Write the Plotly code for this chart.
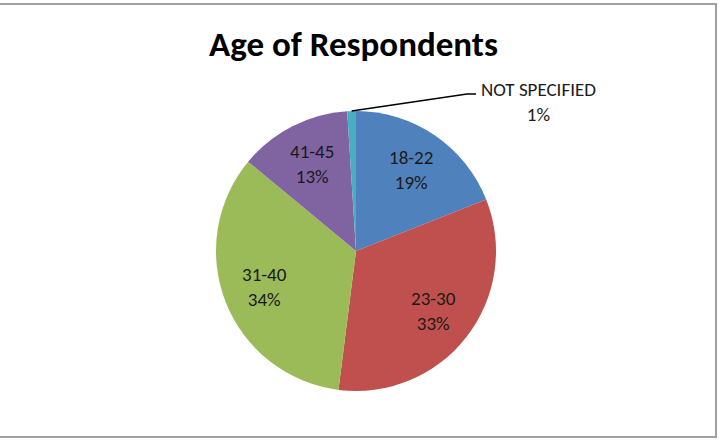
import math
import plotly.graph_objects as go

labels = ["18-22", "23-30", "31-40", "41-45", "NOT SPECIFIED"]
values = [19, 33, 34, 13, 1]
colors = ["#4F81BD", "#C0504D", "#9BBB59", "#8064A2", "#4BACC6"]
title = "Age of Respondents"

W, H = 723, 448
cx, cy, r = 356, 251, 140  # pixel layout of the pie

fig = go.Figure(go.Pie(
    labels=labels, values=values, sort=False, direction="clockwise", rotation=0,
    marker=dict(colors=colors, line=dict(width=0)),
    textinfo="none", hoverinfo="label+percent", showlegend=False,
    domain=dict(x=[(cx - r) / W, (cx + r) / W], y=[(H - cy - r) / H, (H - cy + r) / H]),
))

total = sum(values)
font = dict(family="Carlito, Lato, sans-serif", size=19, color="#1a1a1a")
annotations = []
cum = 0
for lab, v in zip(labels, values):
    mid = (cum + v / 2) / total * 2 * math.pi
    cum += v
    pct = f"{round(v / total * 100)}%"
    if lab == "NOT SPECIFIED":
        ex = cx + r * math.sin(mid)
        ey = cy - r * math.cos(mid)
        path = f"M {ex/W},{1-ey/H} L {467/W},{1-94/H} L {476/W},{1-94/H}"
        fig.add_shape(type="path", path=path, xref="paper", yref="paper",
                      line=dict(color="black", width=1.5))
        annotations.append(dict(x=538 / W, y=1 - 102 / H, xref="paper", yref="paper",
                                text=f"{lab}<br>{pct}", showarrow=False, font=font,
                                xanchor="center", yanchor="middle"))
        continue
    rr = 0.7 * r
    px = cx + rr * math.sin(mid)
    py = cy - rr * math.cos(mid)
    annotations.append(dict(x=px / W, y=1 - py / H, xref="paper", yref="paper",
                            text=f"{lab}<br>{pct}", showarrow=False, font=font,
                            xanchor="center", yanchor="middle"))

annotations.append(dict(x=353 / W, y=1 - 44 / H, xref="paper", yref="paper",
                        text=f"<b>{title}</b>", showarrow=False,
                        font=dict(family="Carlito, Lato, sans-serif", size=35, color="black"),
                        xanchor="center", yanchor="middle"))

fig.add_shape(type="rect", xref="paper", yref="paper",
              x0=-0.01, y0=1 - 437 / H, x1=716 / W, y1=1 - 4 / H,
              line=dict(color="#A0A0A0", width=2))

fig.update_layout(width=W, height=H, margin=dict(l=0, r=0, t=0, b=0),
                  paper_bgcolor="white", plot_bgcolor="white",
                  annotations=annotations)

fig.write_html("out.html")
